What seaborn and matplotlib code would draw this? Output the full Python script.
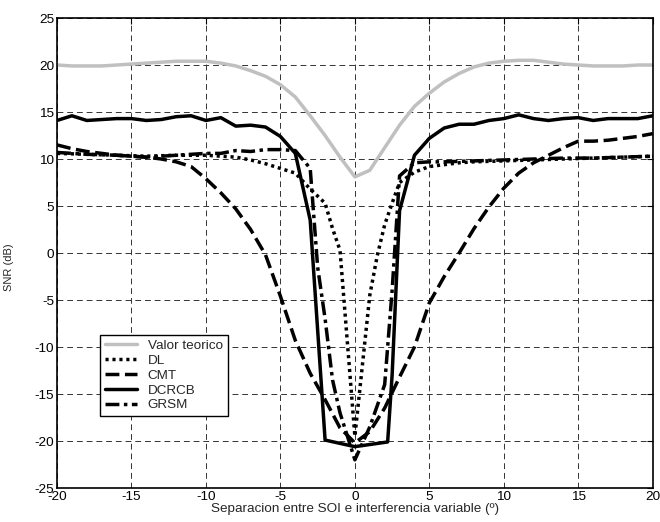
import numpy as np
import pandas as pd
import seaborn as sns
import matplotlib
matplotlib.use("Agg")
import matplotlib.pyplot as plt

# ---- datos ----
x_teo = [-20, -19, -18, -17, -16, -15, -14, -13, -12, -11, -10, -9, -8, -7, -6, -5, -4, -3, -2, -1,
         0, 1, 2, 3, 4, 5, 6, 7, 8, 9, 10, 11, 12, 13, 14, 15, 16, 17, 18, 19, 20]
y_teo = [20.0, 19.9, 19.9, 19.9, 20.0, 20.1, 20.2, 20.3, 20.4, 20.4, 20.4, 20.2, 19.9, 19.4, 18.8, 17.9,
         16.6, 14.6, 12.5, 10.2, 8.1, 8.8, 11.2, 13.6, 15.6, 17.0, 18.2, 19.1, 19.8, 20.2, 20.4,
         20.5, 20.5, 20.3, 20.1, 20.0, 19.9, 19.9, 19.9, 20.0, 20.0]

x_dl = [-20, -18, -16, -14, -12, -10, -8, -7, -6, -5, -4, -3, -2, -1.5, -1, 0,
        0.5, 1, 1.5, 2, 2.5, 3, 4, 5, 6, 7, 8, 10, 12, 14, 16, 18, 20]
y_dl = [10.6, 10.5, 10.4, 10.3, 10.4, 10.4, 10.2, 9.9, 9.5, 9.0, 8.5, 6.8, 5.3, 2.6, 0.3, -19.5,
        -12.0, -4.5, -0.3, 3.0, 5.3, 7.5, 8.6, 9.2, 9.4, 9.6, 9.7, 9.8, 9.9, 10.0, 10.1, 10.2, 10.3]

x_cmt = [-20, -19, -18, -17, -16, -15, -14, -13, -12, -11, -10, -9, -8, -7, -6, -5, -4, -3, -2, -1,
         0, 1, 2, 3, 4, 5, 6, 7, 8, 9, 10, 11, 12, 13, 14, 15, 16, 17, 18, 19, 20]
y_cmt = [11.5, 11.1, 10.8, 10.6, 10.4, 10.3, 10.2, 10.0, 9.7, 9.2, 7.9, 6.4, 4.7, 2.5, -0.2, -4.6,
         -9.3, -12.8, -15.6, -18.6, -20.2, -19.0, -16.5, -13.2, -10.0, -5.3, -2.5, 0.0, 2.6, 4.9,
         6.9, 8.5, 9.6, 10.4, 11.2, 11.9, 11.9, 12.0, 12.2, 12.4, 12.7]

x_dcrcb = [-20, -19, -18, -17, -16, -15, -14, -13, -12, -11, -10, -9, -8, -7, -6, -5, -4, -3, -2,
           0, 2.2, 2.5, 3, 4, 5, 6, 7, 8, 9, 10, 11, 12, 13, 14, 15, 16, 17, 18, 19, 20]
y_dcrcb = [14.1, 14.6, 14.1, 14.2, 14.3, 14.3, 14.1, 14.2, 14.5, 14.6, 14.1, 14.4, 13.5, 13.6, 13.4,
           12.4, 10.6, 3.5, -19.9, -20.6, -20.1, -13.0, 4.5, 10.4, 12.2, 13.3, 13.7, 13.7, 14.1,
           14.3, 14.7, 14.3, 14.1, 14.3, 14.4, 14.1, 14.3, 14.3, 14.3, 14.6]

x_grsm = [-20, -18, -16, -14, -13, -12, -11, -10, -9, -8, -7, -6, -5, -4, -3, -2.5, -2, -1.5, -1,
          0, 1, 2, 2.5, 3, 4, 5, 6, 8, 10, 12, 14, 16, 18, 20]
y_grsm = [10.7, 10.5, 10.4, 10.2, 10.3, 10.4, 10.5, 10.6, 10.6, 10.9, 10.8, 11.0, 11.0, 10.9, 9.0,
          -1.5, -7.0, -13.5, -17.0, -22.0, -18.5, -14.0, -4.0, 8.2, 9.6, 9.7, 9.7, 9.8, 9.9, 10.0,
          10.1, 10.1, 10.2, 10.3]

series = [
    ("Valor teorico", x_teo, y_teo, "#c0c0c0", "-"),
    ("DL", x_dl, y_dl, "black", (0, (0.9, 1.1))),
    ("CMT", x_cmt, y_cmt, "black", (0, (4, 1.6))),
    ("DCRCB", x_dcrcb, y_dcrcb, "black", "-"),
    ("GRSM", x_grsm, y_grsm, "black", (0, (4, 1.3, 1, 1.3))),
]

sns.set_style("white")
plt.rcParams["font.family"] = ["Liberation Sans", "DejaVu Sans"]
plt.rcParams["axes.unicode_minus"] = False
FS = 9.7

fig = plt.figure(figsize=(6.6, 5.22), dpi=100)
ax = fig.add_axes([0.0864, 0.0651, 0.9026, 0.9004])

for name, xs, ys, col, ls in series:
    sns.lineplot(x=xs, y=ys, ax=ax, color=col, linestyle=ls, linewidth=2.5,
                 sort=False, label=name)

ax.set_xlim(-20, 20)
ax.set_ylim(-25, 25)
ax.set_xticks(range(-20, 21, 5))
ax.set_yticks(range(-25, 26, 5))
ax.grid(True, color="#333333", linestyle=(0, (6, 4)), linewidth=0.7)
ax.tick_params(direction="in", top=True, right=True, length=4, width=0.8,
               labelsize=FS, colors="black", pad=2)
for s in ax.spines.values():
    s.set_color("black")
    s.set_linewidth(1.2)

ax.set_xlabel("Separacion entre SOI e interferencia variable (º)", fontsize=FS, labelpad=0)
ax.set_ylabel("SNR (dB)", fontsize=8)
ax.yaxis.set_label_coords(-0.072, 0.47)

leg = ax.legend(loc="lower left", bbox_to_anchor=(0.072, 0.153), fontsize=FS,
                frameon=True, fancybox=False, framealpha=1, edgecolor="black",
                handlelength=2.4, borderpad=0.35, labelspacing=0.18, borderaxespad=0,
                handletextpad=0.8)
leg.get_frame().set_linewidth(1.0)

fig.savefig("out.png", dpi=100)
